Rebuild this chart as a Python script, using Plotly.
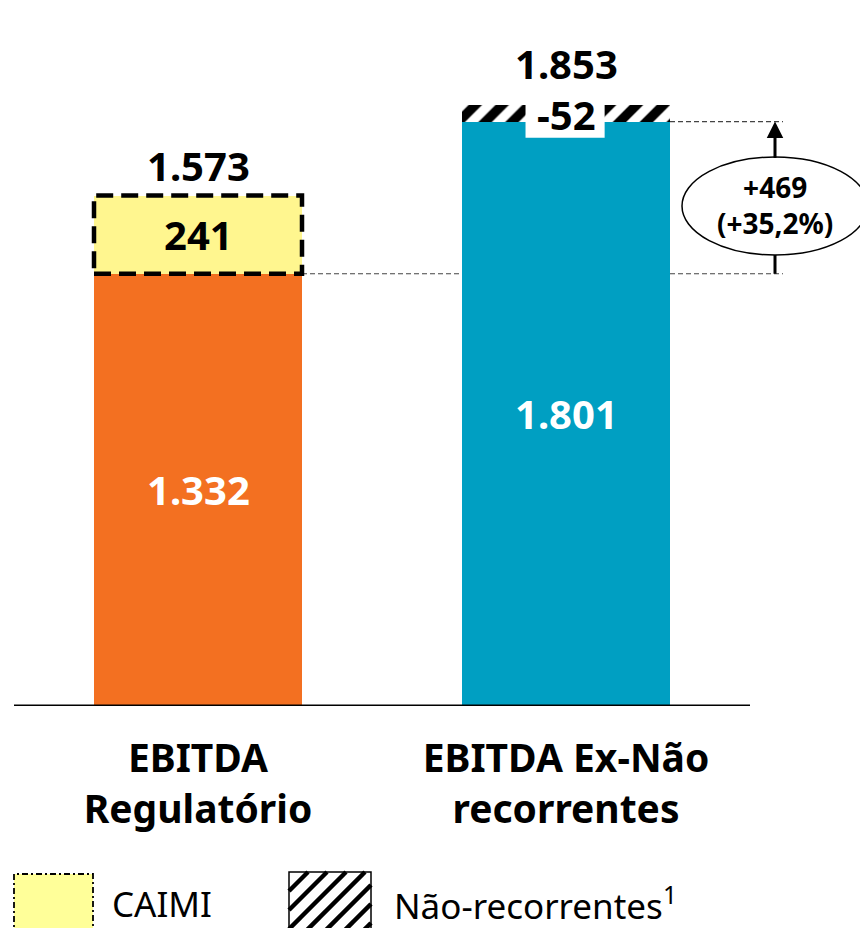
import plotly.graph_objects as go

# ---------------- data ----------------
categories = ["EBITDA<br>Regulatório", "EBITDA Ex-Não<br>recorrentes"]
base_values = [1332, 1801]          # EBITDA Regulatório, EBITDA Ex-Não recorrentes
caimi_values = [241, 0]              # CAIMI adjustment (bar 1)
nao_rec_values = [0, 52]             # Não-recorrentes (bar 2)
totals = [1573, 1853]
base_labels = ["1.332", "1.801"]
caimi_label = "241"
nao_rec_label = "-52"
total_labels = ["1.573", "1.853"]
delta_labels = ["+469", "(+35,2%)"]
legend_labels = ["CAIMI", "Não-recorrentes<sup>1</sup>"]

# ---------------- style ----------------
OFF = 8                      # page body margin
W, H = 868 - OFF, 928 - OFF
BASE_PY = 706                # baseline position on the page
PLOT_H = BASE_PY - OFF
Y_MAX = PLOT_H / 0.3245
FONT = "Noto Sans"
ORANGE = "#F37021"
TEAL = "#009FC2"
YELLOW = "#FFF68F"
LEG_YELLOW = "#FFFF99"
SP = 368.0                   # px per category step
C0 = 198 - OFF               # px of first category centre
BAR_W = 208 / SP
X_RANGE = [-C0 / SP, (W - C0) / SP]
xpos = [0, 1]


def pxx(px):
    return (px - OFF) / W


def pxy(py):
    return (BASE_PY - py) / PLOT_H


def dx(px):
    return (px - OFF - C0) / SP


fig = go.Figure()
fig.add_trace(go.Bar(x=xpos, y=base_values, width=BAR_W,
                     marker=dict(color=[ORANGE, TEAL], line=dict(width=0)),
                     hoverinfo="skip", showlegend=False))
fig.add_trace(go.Bar(x=xpos[:1], y=caimi_values[:1], base=base_values[:1], width=BAR_W,
                     marker=dict(color=YELLOW, line=dict(width=0)),
                     hoverinfo="skip", showlegend=False))
fig.add_trace(go.Bar(x=xpos[1:], y=nao_rec_values[1:], base=base_values[1:], width=BAR_W,
                     marker=dict(color="white", line=dict(width=0),
                                 pattern=dict(shape="/", fgcolor="black", bgcolor="white",
                                              fgopacity=1, fillmode="replace",
                                              size=19, solidity=0.5)),
                     hoverinfo="skip", showlegend=False))

shapes = []
annotations = []
hw = BAR_W / 2

# dashed border around CAIMI segment
shapes.append(dict(type="rect", xref="x", yref="y",
                   x0=xpos[0] - hw, x1=xpos[0] + hw,
                   y0=base_values[0], y1=base_values[0] + caimi_values[0],
                   line=dict(color="black", width=4.5, dash="17px,8px"),
                   fillcolor="rgba(0,0,0,0)", layer="above"))

# white box behind "-52"
shapes.append(dict(type="rect", xref="x", yref="y", ysizemode="pixel",
                   yanchor=totals[1], y0=-33, y1=2,
                   x0=xpos[1] - 0.11, x1=xpos[1] + 0.105,
                   line=dict(width=0), fillcolor="white", layer="above"))

# dashed reference lines
x_ref_end = dx(783)
shapes.append(dict(type="line", xref="x", yref="y", x0=xpos[0] + hw, x1=x_ref_end,
                   y0=base_values[0], y1=base_values[0],
                   line=dict(color="#444444", width=1.2, dash="5px,3px"), layer="below"))
shapes.append(dict(type="line", xref="x", yref="y", x0=xpos[1] + hw, x1=x_ref_end,
                   y0=base_values[1], y1=base_values[1],
                   line=dict(color="#444444", width=1.2, dash="5px,3px"), layer="above"))

# baseline
shapes.append(dict(type="line", xref="x", yref="y", x0=dx(14), x1=dx(750), y0=0, y1=0,
                   line=dict(color="black", width=3), layer="above"))

# ellipse + arrow
x_arrow = dx(775)
mid = (base_values[0] + base_values[1]) / 2
mid_py = BASE_PY - mid * 0.3245
shapes.append(dict(type="line", xref="x", yref="y", ysizemode="pixel",
                   x0=x_arrow, x1=x_arrow,
                   yanchor=base_values[0], y0=0, y1=20,
                   line=dict(color="black", width=3), layer="above"))
shapes.append(dict(type="circle", xref="x", yref="y", xsizemode="pixel", ysizemode="pixel",
                   xanchor=x_arrow, x0=-93, x1=93,
                   yanchor=mid, y0=mid_py - 255, y1=mid_py - 157,
                   line=dict(color="black", width=1.5), fillcolor="white", layer="above"))
annotations.append(dict(x=x_arrow, y=base_values[1], xref="x", yref="y",
                        ax=0, ay=38, text="", showarrow=True,
                        arrowhead=2, arrowsize=1.1, arrowwidth=3, arrowcolor="black",
                        standoff=0, startstandoff=0))
annotations.append(dict(x=x_arrow, y=mid, xref="x", yref="y", yshift=mid_py - 205,
                        text="<b>" + "<br>".join(delta_labels) + "</b>", showarrow=False,
                        font=dict(family=FONT, size=28, color="black")))

# value labels
LBL = 40
for i in range(2):
    annotations.append(dict(x=xpos[i], y=base_values[i] / 2, xref="x", yref="y",
                            text="<b>" + base_labels[i] + "</b>", showarrow=False,
                            font=dict(family=FONT, size=LBL, color="white")))
annotations.append(dict(x=xpos[0], y=base_values[0] + caimi_values[0] / 2, xref="x", yref="y",
                        text="<b>" + caimi_label + "</b>", showarrow=False,
                        font=dict(family=FONT, size=LBL, color="black")))
annotations.append(dict(x=xpos[1], y=totals[1], xref="x", yref="y", yshift=-10,
                        text="<b>" + nao_rec_label + "</b>", showarrow=False,
                        font=dict(family=FONT, size=LBL, color="black")))
total_shift = [30, 41]
for i in range(2):
    annotations.append(dict(x=xpos[i], y=totals[i], xref="x", yref="y", yshift=total_shift[i],
                            text="<b>" + total_labels[i] + "</b>", showarrow=False,
                            font=dict(family=FONT, size=LBL, color="black")))

# custom legend
shapes.append(dict(type="rect", xref="paper", yref="paper",
                   x0=pxx(14), x1=pxx(93), y0=pxy(940), y1=pxy(874),
                   fillcolor=LEG_YELLOW, line=dict(color="black", width=1.8, dash="6px,3px,2px,3px")))
bx0, bx1, by0, by1 = 289, 371, 872, 940
shapes.append(dict(type="rect", xref="paper", yref="paper",
                   x0=pxx(bx0), x1=pxx(bx1), y0=pxy(by1), y1=pxy(by0),
                   fillcolor="white", line=dict(color="black", width=1.5)))
hgt = by1 - by0
c = bx0 - hgt
while c < bx1:
    ya, yb = by1, by0
    xa, xb = c, c + hgt
    if xa < bx0:
        ya = by1 - (bx0 - c)
        xa = bx0
    if xb > bx1:
        yb = by1 - (bx1 - c)
        xb = bx1
    if xb > xa:
        shapes.append(dict(type="line", xref="paper", yref="paper",
                           x0=pxx(xa), y0=pxy(ya), x1=pxx(xb), y1=pxy(yb),
                           line=dict(color="black", width=4.5)))
    c += 19
annotations.append(dict(x=pxx(110), y=pxy(903), xref="paper", yref="paper",
                        xanchor="left", yanchor="middle", text=legend_labels[0], showarrow=False,
                        font=dict(family=FONT, size=35, color="black")))
annotations.append(dict(x=pxx(392), y=pxy(903), xref="paper", yref="paper",
                        xanchor="left", yanchor="middle", text=legend_labels[1], showarrow=False,
                        font=dict(family=FONT, size=35, color="black")))

fig.update_layout(
    width=W, height=H,
    margin=dict(l=0, r=0, t=0, b=H - PLOT_H, pad=0),
    paper_bgcolor="white", plot_bgcolor="white",
    barmode="overlay", bargap=0,
    showlegend=False,
    shapes=shapes, annotations=annotations,
    xaxis=dict(range=X_RANGE, tickvals=xpos, ticktext=["<b>" + c_ + "</b>" for c_ in categories],
               tickfont=dict(family=FONT, size=39, color="black"),
               showgrid=False, zeroline=False, showline=False, ticks="",
               ticklabelstandoff=26, automargin=False, fixedrange=True),
    yaxis=dict(range=[0, Y_MAX], visible=False, showgrid=False, zeroline=False, fixedrange=True),
)

fig.write_html("out.html")
